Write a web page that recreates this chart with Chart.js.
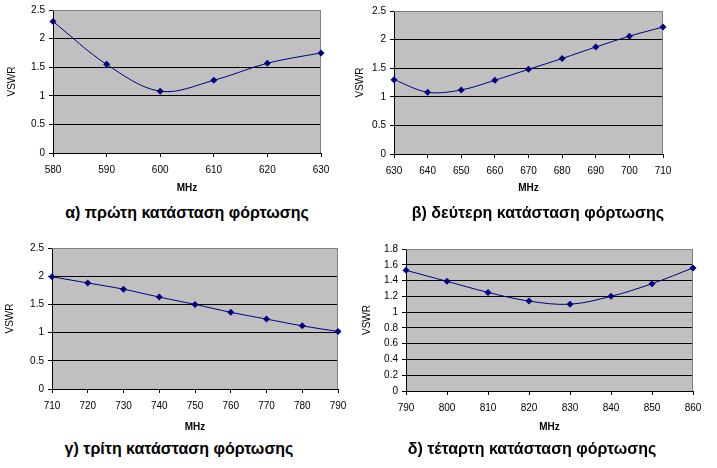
<!DOCTYPE html>
<html lang="el">
<head>
    <meta charset="UTF-8">
    <title>VSWR - καταστάσεις φόρτωσης</title>
    <style>
        body {
            margin: 0;
            background: #fff;
            width: 717px;
            height: 468px;
            position: relative;
            overflow: hidden;
            font-family: "Liberation Sans", Arial, sans-serif;
        }

        canvas {
            position: absolute;
        }

        .caption {
            position: absolute;
            width: 340px;
            margin-left: -170px;
            text-align: center;
            font-size: 16px;
            font-weight: bold;
            line-height: 18px;
            color: #000;
        }
    </style>
</head>
<body>
    <canvas id="c1" width="358" height="195" style="left:0;top:0"></canvas>
    <canvas id="c2" width="362" height="195" style="left:355px;top:0"></canvas>
    <canvas id="c3" width="358" height="200" style="left:0;top:235px"></canvas>
    <canvas id="c4" width="362" height="200" style="left:355px;top:235px"></canvas>

    <div class="caption" style="left:187px;top:204px">α) πρώτη κατάσταση φόρτωσης</div>
    <div class="caption" style="left:538px;top:204px">β) δεύτερη κατάσταση φόρτωσης</div>
    <div class="caption" style="left:179px;top:440px">γ) τρίτη κατάσταση φόρτωσης</div>
    <div class="caption" style="left:532px;top:440px">δ) τέταρτη κατάσταση φόρτωσης</div>

    <script src="https://cdn.jsdelivr.net/npm/chart.js"></script>
    <script>
        // frequencies (MHz) and VSWR
        const freq1 = [580, 590, 600, 610, 620, 630];
        const vswr1 = [2.30, 1.55, 1.08, 1.27, 1.57, 1.75];

        const freq2 = [630, 640, 650, 660, 670, 680, 690, 700, 710];
        const vswr2 = [1.30, 1.08, 1.12, 1.29, 1.48, 1.67, 1.87, 2.06, 2.22];

        const freq3 = [710, 720, 730, 740, 750, 760, 770, 780, 790];
        const vswr3 = [1.99, 1.88, 1.77, 1.63, 1.50, 1.36, 1.24, 1.12, 1.02];

        const freq4 = [790, 800, 810, 820, 830, 840, 850, 860];
        const vswr4 = [1.53, 1.39, 1.25, 1.14, 1.10, 1.20, 1.36, 1.56];

        // y axis ranges
        const yMax1 = 2.5, yStep1 = 0.5;
        const yMax2 = 2.5, yStep2 = 0.5;
        const yMax3 = 2.5, yStep3 = 0.5;
        const yMax4 = 1.8, yStep4 = 0.2;

        const xTitle = 'MHz';
        const yTitle = 'VSWR';

        const plotBg = {
            id: 'plotBg',
            beforeDraw(chart) {
                const a = chart.chartArea;
                const ctx = chart.ctx;
                ctx.save();
                ctx.fillStyle = '#c0c0c0';
                ctx.fillRect(a.left, a.top, a.right - a.left, a.bottom - a.top);
                ctx.restore();
            },
            beforeDatasetsDraw(chart) {
                const a = chart.chartArea;
                const ctx = chart.ctx;
                ctx.save();
                ctx.strokeStyle = '#808080';
                ctx.lineWidth = 1;
                ctx.beginPath();
                ctx.moveTo(a.left, a.top + 0.5);
                ctx.lineTo(a.right - 0.5, a.top + 0.5);
                ctx.lineTo(a.right - 0.5, a.bottom);
                ctx.stroke();
                ctx.restore();
            }
        };

        function makePanel(id, labels, values, yMax, yStep, g) {
            new Chart(document.getElementById(id), {
                type: 'line',
                data: {
                    labels: labels,
                    datasets: [{
                        data: values,
                        borderColor: '#000080',
                        backgroundColor: '#000080',
                        borderWidth: 1,
                        tension: 0.35,
                        pointStyle: 'rectRot',
                        pointRadius: 3.5,
                        pointBorderWidth: 0,
                        clip: false
                    }]
                },
                options: {
                    responsive: false,
                    animation: false,
                    layout: {
                        padding: { top: g.top, right: g.right, bottom: 0, left: 0 }
                    },
                    plugins: {
                        legend: { display: false },
                        tooltip: { enabled: false }
                    },
                    scales: {
                        x: {
                            offset: false,
                            grid: {
                                drawOnChartArea: false,
                                tickLength: 4,
                                tickColor: '#000'
                            },
                            border: { color: '#000' },
                            ticks: {
                                color: '#000',
                                font: { family: 'Liberation Sans, Arial', size: 10 },
                                padding: 7,
                                maxRotation: 0,
                                autoSkip: false
                            },
                            title: {
                                display: true,
                                text: xTitle,
                                color: '#000',
                                font: { family: 'Liberation Sans, Arial', size: 10, weight: 'bold' },
                                padding: { top: 0, bottom: g.titleBottom }
                            },
                            afterFit(scale) { scale.height = g.xh; }
                        },
                        y: {
                            min: 0,
                            max: yMax,
                            ticks: {
                                stepSize: yStep,
                                color: '#000',
                                font: { family: 'Liberation Sans, Arial', size: 10 },
                                padding: 4,
                                callback: v => String(+v.toFixed(2))
                            },
                            grid: {
                                tickLength: 4,
                                tickColor: '#000',
                                color: c => (c.tick && c.tick.value >= yMax - 1e-9) ? 'rgba(0,0,0,0)' : '#000'
                            },
                            border: { color: '#000' },
                            title: {
                                display: true,
                                text: yTitle,
                                color: '#000',
                                font: { family: 'Liberation Sans, Arial', size: 10, lineHeight: 1 },
                                padding: { top: g.titleLeft, bottom: 0 }
                            },
                            afterFit(scale) { scale.width = g.yw; }
                        }
                    }
                },
                plugins: [plotBg]
            });
        }

        makePanel('c1', freq1, vswr1, yMax1, yStep1, { top: 10, right: 37, xh: 42, yw: 53, titleBottom: 1, titleLeft: 7 });
        makePanel('c2', freq2, vswr2, yMax2, yStep2, { top: 11, right: 54, xh: 41, yw: 39, titleBottom: 1, titleLeft: 0 });
        makePanel('c3', freq3, vswr3, yMax3, yStep3, { top: 13, right: 20, xh: 46, yw: 52, titleBottom: 2, titleLeft: 5 });
        makePanel('c4', freq4, vswr4, yMax4, yStep4, { top: 14, right: 24, xh: 44, yw: 51, titleBottom: 2, titleLeft: 7 });
    </script>
</body>
</html>
